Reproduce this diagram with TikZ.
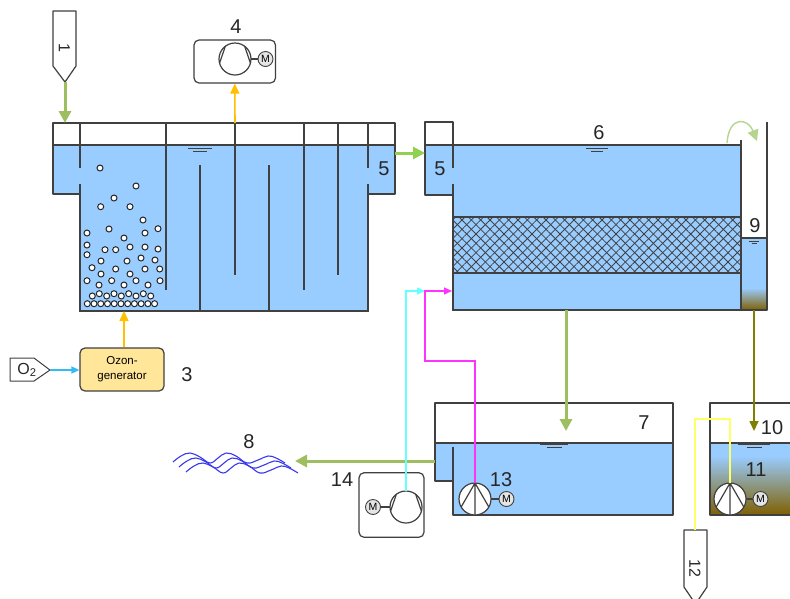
\documentclass[tikz,border=0pt]{standalone}
\usepackage{fontspec}
\setmainfont{Liberation Sans}
\usepackage{xcolor}
\usetikzlibrary{arrows.meta,patterns.meta}
\definecolor{water}{HTML}{99CCFF}
\definecolor{sludge}{HTML}{7F6000}
\definecolor{wall}{HTML}{404040}
\definecolor{flowgreen}{HTML}{9DBF5F}
\definecolor{brightgreen}{HTML}{92D050}
\definecolor{paleGreen}{HTML}{B5D58F}
\definecolor{ozone}{HTML}{FFC000}
\definecolor{ozonebox}{HTML}{FFE699}
\definecolor{oxygen}{HTML}{33BBF2}
\definecolor{air}{HTML}{66FFFF}
\definecolor{recycle}{HTML}{FF33FF}
\definecolor{sludgeline}{HTML}{FFFF66}
\definecolor{olive2}{HTML}{808000}
\definecolor{wave}{HTML}{3838F0}

\begin{document}
\begin{tikzpicture}[x=1pt,y=-1pt,
    lbl/.style={font=\fontsize{20}{22}\selectfont, inner sep=0pt, text=black!85},
    wallline/.style={draw=wall, line width=1.2pt},
    rim/.style={draw=wall, line width=1.2pt, line join=round},
    pump/.style={circle, draw=wall, fill=white, line width=1.2pt, minimum size=32pt, inner sep=0pt, outer sep=0pt},
    motor/.style={circle, draw=wall, fill=white!90!black, line width=0.9pt, minimum size=15pt, inner sep=0pt, outer sep=0pt, font=\fontsize{10.5}{11}\selectfont},
    casing/.style={rectangle, rounded corners=5pt, draw=wall, line width=1.2pt, inner sep=0pt},
    bigarrow/.style={-{Triangle[width=12pt,length=12pt]}, draw=#1, line width=3pt},
    midarrow/.style={-{Triangle[width=9pt,length=10pt]}, draw=#1, line width=1.6pt},
    thinarrow/.style={-{Triangle[width=7pt,length=8pt]}, draw=#1, line width=1.5pt},
    bubble/.style={circle, draw=black!85, fill=white, line width=1pt, minimum size=6pt, inner sep=0pt},
    level/.style={draw=wall, line width=1pt}
]
\clip (0,0) rectangle (790,598);
\fill[white] (0,0) rectangle (790,598);

% water
\fill[water] (53,145) rectangle (395,194);
\fill[water] (80,145) rectangle (368,310);
\fill[water] (425,145) rectangle (452,195);
\fill[water] (452,145) rectangle (741,310);
\fill[water] (741,238) rectangle (767,290);
\shade[top color=water, bottom color=sludge] (741,288) rectangle (767,310);
\fill[water] (435,443) rectangle (673,481);
\fill[water] (453,443) rectangle (673,515);
\fill[water] (710,443) rectangle (800,458);
\shade[top color=water, bottom color=sludge] (710,456) rectangle (800,515);

% packing
\fill[pattern={Lines[angle=45,distance=6.6pt,line width=0.8pt]},pattern color=wall] (452,217) rectangle (741,273);
\fill[pattern={Lines[angle=-45,distance=6.6pt,line width=0.8pt]},pattern color=wall] (452,217) rectangle (741,273);
\draw[wallline] (452,217) -- (741,217) (452,273) -- (741,273);

% ozone tank
\draw[rim] (80,194) -- (53,194) -- (53,123) -- (395,123) -- (395,194) -- (368,194);
\draw[rim] (53,145) -- (395,145);
\draw[wallline] (80,123) -- (80,168) (80,184) -- (80,311) -- (368,311) -- (368,184) (368,168) -- (368,123);
\foreach \xa/\ya/\yb in {166/123/290, 200/165/311, 235/123/275, 269/165/311, 304/123/290, 338/123/275}
  \draw[wallline] (\xa,\ya) -- (\xa,\yb);

% filter tank
\draw[rim] (453,195) -- (425,195) -- (425,122) -- (453,122) -- (453,168) (453,184) -- (453,310);
\draw[rim] (425,145) -- (741,145);
\draw[rim] (452,310) -- (767,310) -- (767,122);
\draw[wallline] (741,140) -- (741,310);
\draw[wallline] (741,238) -- (767,238);

% clean water tank
\draw[rim] (453,481) -- (435,481) -- (435,403) -- (673,403) -- (673,515) -- (453,515) -- (453,447);
\draw[rim] (435,443) -- (673,443);

% sludge tank
\draw[rim] (800,403) -- (710,403) -- (710,515) -- (800,515);
\draw[rim] (710,443) -- (800,443);

% water levels
\foreach \xc/\yc/\wa/\wb in {200/148/12/7, 597/148/11/6, 554/444/14/7.5, 754/444/16/7.5}
  \draw[level] (\xc-\wa,\yc) -- (\xc+\wa,\yc) (\xc-\wb,\yc+3.7) -- (\xc+\wb,\yc+3.7);
\draw[level] (749,241) -- (759,241) (751.5,243) -- (756.5,243);

% bubbles
\foreach \xb/\yb in {100/168, 136/186, 114/198, 100.7/206.7, 130/206.7, 143/220, 87/233, 109/229, 145/233, 158/228.7,
    124/238, 87/245, 105/249.7, 115.7/249.7, 130/247, 145/247, 158/249, 87/254.7, 101/261, 127/261, 141/258, 155/260,
    92/267.7, 115.7/269, 145/269, 159.7/269, 101/274, 130/274, 87/280.7, 111.7/280.7, 136/280.7, 160/280.7,
    99/285, 124/285, 148/285, 92.3/296, 99.3/293.7, 106.7/296, 114/293.7, 121.3/296, 128.7/293.7, 136/296, 143.3/293.7, 150.7/296}
  \node[bubble] at (\xb,\yb) {};
\foreach \n in {0,...,10}
  \node[bubble] at (87.3+6.73*\n,303.7) {};

% end points of the flows
\coordinate (feedtip) at (65,82);
\coordinate (tankAtop) at (65,123);
\coordinate (offgas) at (235,123);
\coordinate (tankAbase) at (124,311);
\coordinate (tankAout) at (395,153);
\coordinate (tankBin) at (425,153);
\coordinate (tankBbase) at (566,310);
\coordinate (cleanlevel) at (566,431);
\coordinate (cleanout) at (435,461);
\coordinate (wavesin) at (295,461);
\coordinate (chamberbase) at (754,310);
\coordinate (sludgelevel) at (754,431);
\coordinate (airin) at (425,291);
\coordinate (tankBside) at (452,291);
\coordinate (funnelin) at (695,530);
\coordinate (overA) at (727,143);
\coordinate (overB) at (757,141);

% feed and sludge funnels
\draw[rim] (53,11) -- (76,11) -- (76,66) -- (feedtip) -- (53,66) -- cycle;
\node[lbl, font=\fontsize{16}{17}\selectfont, rotate=-90] (one) at (64.5,48) {1};
\draw[rim] (684,530) -- (707,530) -- (707,587) -- (695.5,604) -- (684,587) -- cycle;
\node[lbl, font=\fontsize{16}{17}\selectfont, rotate=-90] (twelve) at (695,568) {12};

% ozone off-gas destructor
\node[casing, minimum width=81.5pt, minimum height=43pt] (destructor) at (234.75,61.5) {};
\node[pump] (compA) at (235,59) {};
\node[motor] (motorA) at (265.5,59) {M};
\draw[wallline] (compA.east) -- (motorA.west);
\draw[wallline] (compA.127) -- (compA.195) (compA.53) -- (compA.-15);

% air blower
\node[casing, minimum width=65pt, minimum height=64.5pt] (blower) at (391.5,505) {};

% ozone generator
\node[rectangle, rounded corners=5pt, draw=wall, line width=1.2pt, fill=ozonebox, minimum width=84pt, minimum height=43pt, align=center, font=\fontsize{11.5}{15}\selectfont, inner sep=0pt] (ozonizer) at (122,369.5) {Ozon-\\generator};
\draw[rim, line width=1pt] (10,358) -- (34,358) -- (50,370) -- (34,381) -- (10,381) -- cycle;
\node[lbl, font=\fontsize{16}{18}\selectfont] (otwo) at (27,370) {O\textsubscript{2}};
\coordinate (oxygentip) at (50,370);

% connectors
\draw[bigarrow=flowgreen] (feedtip) -- (tankAtop);
\draw[midarrow=ozone] (offgas) -- (destructor.south);
\draw[midarrow=ozone] (ozonizer.north -| tankAbase) -- (tankAbase);
\draw[thinarrow=oxygen] (oxygentip) -- (ozonizer.west |- oxygentip);
\draw[bigarrow=brightgreen] (tankAout) -- (tankBin);
\draw[bigarrow=flowgreen] (tankBbase) -- (cleanlevel);
\draw[bigarrow=flowgreen] (cleanout) -- (wavesin);
\draw[midarrow=olive2] (chamberbase) -- (sludgelevel);
\draw[-{Triangle[width=11pt,length=11pt]}, draw=paleGreen, line width=1.4pt] (overA) .. controls (729,115) and (748,118) .. (overB);

% pumps over the pipes
\node[pump] (compB) at (406,507) {};
\node[motor] (motorB) at (373,507) {M};
\draw[wallline] (compB.west) -- (motorB.east);
\draw[wallline] (compB.127) -- (compB.195) (compB.53) -- (compB.-15);

\node[pump] (pumpC) at (475,499) {};
\node[motor] (motorC) at (506.5,499) {M};
\draw[wallline] (pumpC.east) -- (motorC.west);
\draw[wallline] (pumpC.90) -- (pumpC.210) (pumpC.90) -- (pumpC.330) (pumpC.90) -- (pumpC.270);

\node[pump] (pumpD) at (730,499) {};
\node[motor] (motorD) at (760.5,499) {M};
\draw[wallline] (pumpD.east) -- (motorD.west);
\draw[wallline] (pumpD.90) -- (pumpD.210) (pumpD.90) -- (pumpD.330) (pumpD.90) -- (pumpD.270);

\draw[thinarrow=air] (compB.north) -- (compB.north |- airin) -- (airin);
\draw[thinarrow=recycle] (pumpC.north) -- (475,361) -- (425,361) -- (airin) -- (tankBside);
\draw[draw=sludgeline, line width=1.5pt] (pumpD.north) -- (730,419) -- (695,419) -- (funnelin);

% receiving water
\foreach \dx/\dy in {0/0, 6/5, 13/10}
  \draw[draw=wave, line width=1.1pt, shift={(\dx,\dy)}] plot[smooth, tension=0.7] coordinates {(173,462) (181,456) (190,453) (200,457) (210,463) (218,458) (226,453) (236,456) (247,463) (258,460) (268,456) (276,458) (285,463)};

% labels
\node[lbl] (four) at (236,27) {4};
\node[lbl] (fiveA) at (384,169) {5};
\node[lbl] (fiveB) at (440,169) {5};
\node[lbl] (six) at (599,133) {6};
\node[lbl] (seven) at (644,423) {7};
\node[lbl] (eight) at (249,442) {8};
\node[lbl] (nine) at (755,226) {9};
\node[lbl] (ten) at (772,428) {10};
\node[lbl] (eleven) at (756,470) {11};
\node[lbl] (thirteen) at (501,480) {13};
\node[lbl] (fourteen) at (342,480) {14};
\node[lbl] (three) at (187,375) {3};
\end{tikzpicture}
\end{document}
